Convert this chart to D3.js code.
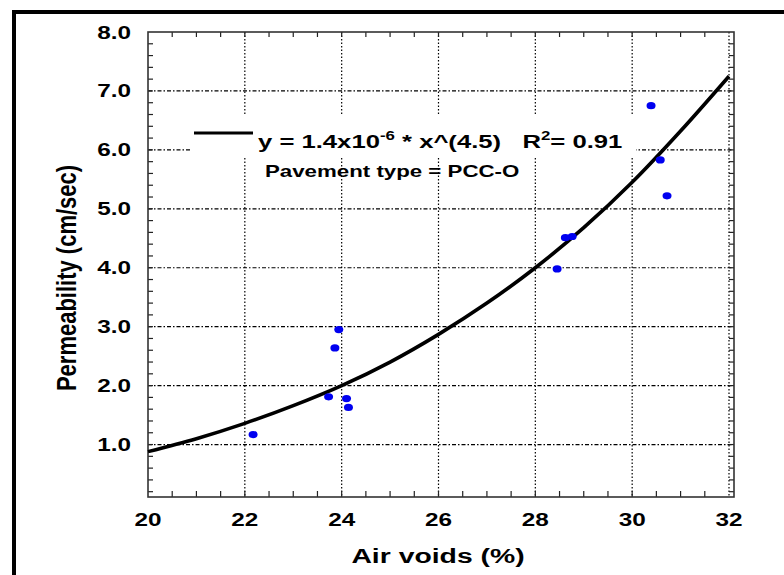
<!DOCTYPE html>
<html>
<head>
<meta charset="utf-8">
<script src="https://cdn.jsdelivr.net/npm/d3@7"></script>
<style>
  html, body { margin: 0; padding: 0; background: #fff; }
  svg { display: block; }
  text { font-family: "Liberation Sans", Arial, sans-serif; font-weight: bold; fill: #000; white-space: pre; }
</style>
</head>
<body>
<svg id="chart" width="784" height="575"></svg>
<script>
// ---------- data ----------
const airVoids     = [22.17, 23.73, 23.86, 23.94, 24.10, 24.14, 28.45, 28.62, 28.76, 30.39, 30.58, 30.72];
const permeability = [1.17, 1.81, 2.64, 2.95, 1.78, 1.63, 3.98, 4.51, 4.53, 6.75, 5.83, 5.22];
// fitted curve
const fitX = [20, 21, 22, 23, 24, 25, 26, 27, 28, 29, 30, 31, 32];
const fitY = [0.88, 1.10, 1.36, 1.66, 2.00, 2.40, 2.87, 3.40, 4.00, 4.68, 5.45, 6.32, 7.25];
const xTicks = [20, 22, 24, 26, 28, 30, 32];
const yTicks = [1.0, 2.0, 3.0, 4.0, 5.0, 6.0, 7.0, 8.0];
const xTitle = "Air voids (%)";
const yTitle = "Permeability (cm/sec)";
const legendEq = ["y = 1.4x10", "-6", " * x^(4.5)   R", "2", "= 0.91"];
const legendNote = "Pavement type = PCC-O";

// ---------- layout ----------
const SX = 1.35; // horizontal stretch of the glyphs
const svg = d3.select("#chart");
const x = d3.scaleLinear().domain([20, 32]).range([148, 729]);
const y = d3.scaleLinear().domain([0.11, 8]).range([497, 32]);
const L = 148, R = 734, T = 32, B = 497;

// outer thick frame
svg.append("rect").attr("x", 14).attr("y", 12).attr("width", 820).attr("height", 620)
  .attr("fill", "none").attr("stroke", "#000").attr("stroke-width", 4);

const g = svg.append("g");

// gridlines
g.selectAll("line.hgrid").data(yTicks.filter(d => d > 0.5 && d < 8)).join("line")
  .attr("class", "hgrid")
  .attr("x1", L).attr("x2", R).attr("y1", d => y(d)).attr("y2", d => y(d))
  .attr("stroke", "#000").attr("stroke-width", 1.2).attr("stroke-dasharray", "4,2,1.5,2");
g.selectAll("line.vgrid").data(xTicks.filter(d => d > 20)).join("line")
  .attr("class", "vgrid")
  .attr("x1", d => x(d)).attr("x2", d => x(d)).attr("y1", T).attr("y2", B)
  .attr("stroke", "#000").attr("stroke-width", 1.2).attr("stroke-dasharray", "1.5,2");

// minor ticks
const yMinor = d3.range(0.2, 7.91, 0.2);
const xMinor = d3.range(20.5, 31.6, 0.5);
const tk = 5;
g.selectAll("line.ylt").data(yMinor).join("line").attr("class", "ylt")
  .attr("x1", L).attr("x2", L + tk).attr("y1", d => y(d)).attr("y2", d => y(d))
  .attr("stroke", "#222").attr("stroke-width", 1.2);
g.selectAll("line.yrt").data(yMinor).join("line").attr("class", "yrt")
  .attr("x1", R).attr("x2", R - tk).attr("y1", d => y(d)).attr("y2", d => y(d))
  .attr("stroke", "#222").attr("stroke-width", 1.2);
g.selectAll("line.xbt").data(xMinor).join("line").attr("class", "xbt")
  .attr("x1", d => x(d)).attr("x2", d => x(d)).attr("y1", B).attr("y2", B - tk - 1)
  .attr("stroke", "#222").attr("stroke-width", 1.2);
g.selectAll("line.xtt").data(xMinor).join("line").attr("class", "xtt")
  .attr("x1", d => x(d)).attr("x2", d => x(d)).attr("y1", T).attr("y2", T + tk)
  .attr("stroke", "#222").attr("stroke-width", 1.2);

// plot frame
g.append("rect").attr("x", L).attr("y", T).attr("width", R - L).attr("height", B - T)
  .attr("fill", "none").attr("stroke", "#333").attr("stroke-width", 1.6);

// legend white background (first line)
g.append("rect").attr("x", 192).attr("y", 115).attr("width", 444).attr("height", 41).attr("fill", "#fff");

// fitted curve
const line = d3.line().x((d, i) => x(fitX[i])).y(d => y(d)).curve(d3.curveCatmullRom);
g.append("path").attr("d", line(fitY)).attr("fill", "none")
  .attr("stroke", "#000").attr("stroke-width", 3.6);

// points
g.selectAll("ellipse.pt").data(airVoids).join("ellipse").attr("class", "pt")
  .attr("cx", d => x(d)).attr("cy", (d, i) => y(permeability[i]))
  .attr("rx", 4.5).attr("ry", 3.6).attr("fill", "#0000f0");

// tick labels
function stretchedText(parent, px, py, str, size, anchor, rot) {
  return parent.append("text")
    .attr("transform", `translate(${px},${py}) scale(${SX},1)` + (rot ? ` rotate(${rot})` : ""))
    .attr("text-anchor", anchor).attr("font-size", size).text(str);
}
yTicks.forEach(v => stretchedText(g, 131, y(v) + 6.5, v.toFixed(1), 18, "end"));
xTicks.forEach(v => stretchedText(g, x(v), 526, String(v), 18, "middle"));

// axis titles
stretchedText(g, 438, 563, xTitle, 21, "middle");
g.append("text")
  .attr("transform", `translate(76,278) scale(1.25,1) rotate(-90)`)
  .attr("text-anchor", "middle").attr("font-size", 22).text(yTitle);

// legend
g.append("line").attr("x1", 194).attr("x2", 253).attr("y1", 133).attr("y2", 133)
  .attr("stroke", "#000").attr("stroke-width", 3.2);
const eq = g.append("text").attr("transform", `translate(258,148) scale(${SX},1)`)
  .attr("font-size", 19).attr("xml:space", "preserve");
eq.append("tspan").text(legendEq[0]);
eq.append("tspan").attr("font-size", 12.5).attr("dy", -8).text(legendEq[1]);
eq.append("tspan").attr("dy", 8).text(legendEq[2]);
eq.append("tspan").attr("font-size", 12.5).attr("dy", -8).text(legendEq[3]);
eq.append("tspan").attr("dy", 8).text(legendEq[4]);
stretchedText(g, 265, 177, legendNote, 16.5, "start");
</script>
</body>
</html>
